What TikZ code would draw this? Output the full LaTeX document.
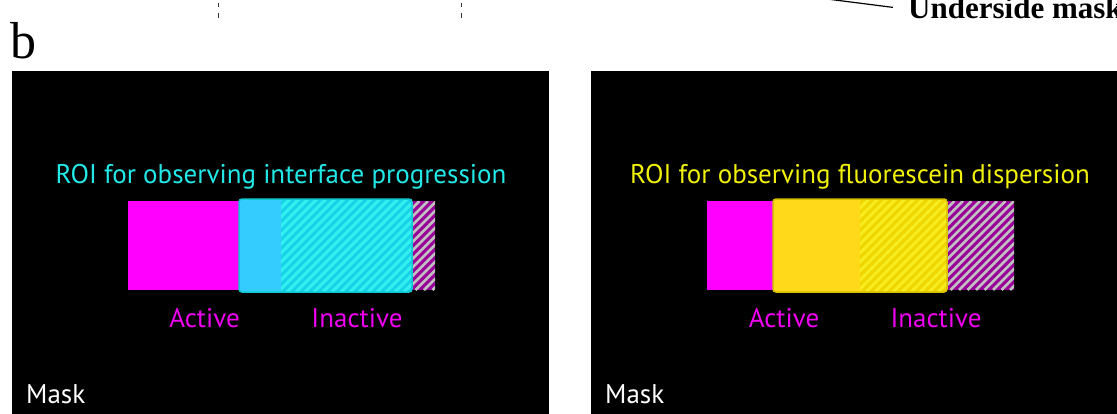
\documentclass[tikz,border=0pt]{standalone}
\usepackage{fontspec}
\setmainfont{Liberation Serif}
\newfontfamily\panelfont{PT Sans}

\definecolor{roiCyan}{RGB}{34,232,232}
\definecolor{roiYellow}{RGB}{240,240,10}
\definecolor{actMag}{RGB}{240,0,240}
\definecolor{fillMag}{RGB}{255,0,255}
\definecolor{cyanSolid}{RGB}{52,204,255}
\definecolor{cyanHatchBg}{RGB}{26,210,232}
\definecolor{cyanHatchFg}{RGB}{48,240,240}
\definecolor{cyanEdge}{RGB}{16,200,210}
\definecolor{yelSolid}{RGB}{255,217,26}
\definecolor{yelHatchBg}{RGB}{240,214,0}
\definecolor{yelHatchFg}{RGB}{248,236,32}
\definecolor{yelEdge}{RGB}{214,190,0}
\definecolor{inPurple}{RGB}{153,0,153}
\definecolor{inGray}{RGB}{192,192,192}

% diagonal stripes inside a rectangle:
% #1,#2 top-left  #3,#4 bottom-right  #5 background  #6 stripe colour  #7 period  #8 stripe width
\newcommand{\stripebox}[8]{%
  \begin{scope}
    \clip (#1,#2) rectangle (#3,#4);
    \fill[#5] (#1,#2) rectangle (#3,#4);
    \pgfmathsetmacro\hh{#4-#2}
    \pgfmathsetmacro\kstart{#1-\hh}
    \pgfmathsetmacro\knext{\kstart+#7}
    \foreach \k in {\kstart,\knext,...,#3}
      \draw[#6, line width=#8pt] (\k,#4) -- ++(\hh,-\hh);
  \end{scope}}

\tikzset{
  panel/.style={fill=black},
  roilabel/.style={font=\panelfont\fontsize{27}{32}\selectfont, anchor=base, inner sep=0pt},
  statelabel/.style={font=\panelfont\fontsize{27}{32}\selectfont, text=actMag, anchor=base, inner sep=0pt},
  masklabel/.style={font=\panelfont\fontsize{27}{32}\selectfont, text=white, anchor=base west, inner sep=0pt},
  guide/.style={black!80, line width=0.9pt, dash pattern=on 4.5pt off 6pt},
}

\begin{document}
\begin{tikzpicture}[x=1pt, y=-1pt]
\useasboundingbox (0,0) rectangle (1117,413);
\clip (0,0) rectangle (1117,413);

% guide marks and callout from the drawing above
\coordinate (g1a) at (218,17.5);
\coordinate (g1b) at (218,-20);
\coordinate (g2a) at (461,17.5);
\coordinate (g2b) at (461,-20);
\draw[guide] (g1a) -- (g1b);
\draw[guide] (g2a) -- (g2b);
\node[font=\bfseries\fontsize{31}{35}\selectfont, anchor=base west, inner ysep=0pt, inner xsep=15pt]
  (under) at (893,18) {Underside mask};
\coordinate (callfree) at (780,-7);
\draw[black, line width=1.2pt] (callfree) -- (under.west);

% panel letter
\node[font=\fontsize{52}{56}\selectfont, anchor=base west, inner sep=0pt] (lbl) at (10,58) {b};

% ---------- left panel: interface progression ----------
\fill[panel] (12,71) rectangle (549,420);
\fill[fillMag] (128,201) rectangle (240,290);
\stripebox{411}{201}{435}{290}{inPurple}{inGray}{8.5}{2.6}
\begin{scope}
  \clip[rounded corners=3pt] (239,199) rectangle (412,292);
  \fill[cyanSolid] (239,199) rectangle (412,292);
  \stripebox{281}{199}{412}{292}{cyanHatchBg}{cyanHatchFg}{9}{3}
\end{scope}
\draw[cyanEdge, line width=1.5pt, rounded corners=3pt] (239,199) rectangle (412,292);

\node[roilabel, text=roiCyan] (roiL) at (281,183) {ROI for observing interface progression};
\node[statelabel] (actL) at (204.5,327) {Active};
\node[statelabel] (inL) at (357,327) {Inactive};
\node[masklabel] (maskL) at (26,403) {Mask};

% ---------- right panel: fluorescein dispersion ----------
\fill[panel] (591,71) rectangle (1128,420);
\fill[fillMag] (707,201) rectangle (774,290);
\stripebox{946}{201}{1014}{290}{inPurple}{inGray}{8.5}{2.6}
\begin{scope}
  \clip[rounded corners=3pt] (773,199) rectangle (947,292);
  \fill[yelSolid] (773,199) rectangle (947,292);
  \stripebox{860}{199}{947}{292}{yelHatchBg}{yelHatchFg}{9}{3}
\end{scope}
\draw[yelEdge, line width=1.5pt, rounded corners=3pt] (773,199) rectangle (947,292);

\node[roilabel, text=roiYellow] (roiR) at (860,183) {ROI for observing fluorescein dispersion};
\node[statelabel] (actR) at (784,327) {Active};
\node[statelabel] (inR) at (936,327) {Inactive};
\node[masklabel] (maskR) at (605,403) {Mask};
\end{tikzpicture}
\end{document}
